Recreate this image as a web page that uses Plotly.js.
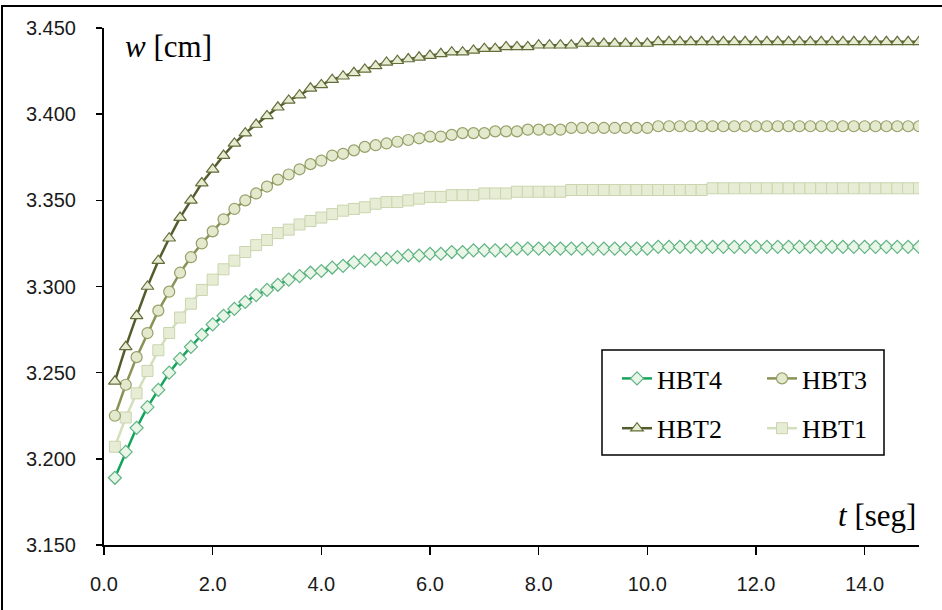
<!DOCTYPE html>
<html>
<head>
<meta charset="utf-8">
<script src="https://cdn.plot.ly/plotly-3.0.1.min.js"></script>
<style>
  html, body { margin: 0; padding: 0; background: #fff; }
  #wrap { position: relative; width: 942px; height: 610px; }
  #chart { width: 942px; height: 610px; }
  #frame { position: absolute; left: 1px; top: 5px; width: 941px; height: 605px;
           border-top: 2px solid #000; border-left: 2px solid #000; box-sizing: border-box; pointer-events: none; }
</style>
</head>
<body>
<div id="wrap">
  <div id="chart"></div>
  <div id="frame"></div>
</div>
<script>
// time [s]
const t = [0.2,0.4,0.6,0.8,1.0,1.2,1.4,1.6,1.8,2.0,2.2,2.4,2.6,2.8,3.0,3.2,3.4,3.6,3.8,4.0,
  4.2,4.4,4.6,4.8,5.0,5.2,5.4,5.6,5.8,6.0,6.2,6.4,6.6,6.8,7.0,7.2,7.4,7.6,7.8,8.0,
  8.2,8.4,8.6,8.8,9.0,9.2,9.4,9.6,9.8,10.0,10.2,10.4,10.6,10.8,11.0,11.2,11.4,11.6,11.8,12.0,
  12.2,12.4,12.6,12.8,13.0,13.2,13.4,13.6,13.8,14.0,14.2,14.4,14.6,14.8,15.0];

const hbt2 = [3.245,3.265,3.283,3.300,3.315,3.328,3.340,3.350,3.360,3.368,3.376,3.383,3.389,3.394,3.399,3.404,3.408,3.411,3.415,3.417,
  3.420,3.422,3.424,3.426,3.428,3.430,3.431,3.432,3.433,3.434,3.435,3.436,3.436,3.437,3.438,3.438,3.439,3.439,3.439,3.440,
  3.440,3.440,3.440,3.441,3.441,3.441,3.441,3.441,3.441,3.441,3.442,3.442,3.442,3.442,3.442,3.442,3.442,3.442,3.442,3.442,
  3.442,3.442,3.442,3.442,3.442,3.442,3.442,3.442,3.442,3.442,3.442,3.442,3.442,3.442,3.442];

const hbt3 = [3.225,3.243,3.259,3.273,3.286,3.297,3.308,3.317,3.325,3.332,3.339,3.345,3.350,3.354,3.358,3.362,3.365,3.368,3.371,3.373,
  3.376,3.377,3.379,3.381,3.382,3.383,3.384,3.385,3.386,3.387,3.387,3.388,3.389,3.389,3.389,3.390,3.390,3.390,3.391,3.391,
  3.391,3.391,3.392,3.392,3.392,3.392,3.392,3.392,3.392,3.392,3.393,3.393,3.393,3.393,3.393,3.393,3.393,3.393,3.393,3.393,
  3.393,3.393,3.393,3.393,3.393,3.393,3.393,3.393,3.393,3.393,3.393,3.393,3.393,3.393,3.393];

const hbt1 = [3.207,3.224,3.238,3.251,3.263,3.273,3.282,3.290,3.298,3.304,3.310,3.315,3.320,3.324,3.327,3.331,3.333,3.336,3.338,3.340,
  3.342,3.344,3.345,3.346,3.348,3.349,3.349,3.350,3.351,3.352,3.352,3.353,3.353,3.353,3.354,3.354,3.354,3.355,3.355,3.355,
  3.355,3.355,3.356,3.356,3.356,3.356,3.356,3.356,3.356,3.356,3.356,3.356,3.356,3.356,3.356,3.357,3.357,3.357,3.357,3.357,
  3.357,3.357,3.357,3.357,3.357,3.357,3.357,3.357,3.357,3.357,3.357,3.357,3.357,3.357,3.357];

const hbt4 = [3.189,3.204,3.218,3.230,3.240,3.250,3.258,3.265,3.272,3.278,3.283,3.287,3.291,3.295,3.298,3.301,3.304,3.306,3.308,3.309,
  3.311,3.312,3.314,3.315,3.316,3.316,3.317,3.318,3.318,3.319,3.319,3.320,3.320,3.321,3.321,3.321,3.321,3.322,3.322,3.322,
  3.322,3.322,3.322,3.322,3.322,3.322,3.322,3.322,3.322,3.322,3.323,3.323,3.323,3.323,3.323,3.323,3.323,3.323,3.323,3.323,
  3.323,3.323,3.323,3.323,3.323,3.323,3.323,3.323,3.323,3.323,3.323,3.323,3.323,3.323,3.323];

const xTicks = [0, 2, 4, 6, 8, 10, 12, 14];
const yTicks = [3.15, 3.20, 3.25, 3.30, 3.35, 3.40, 3.45];

const traces = [
  { x: t, y: hbt1, name: 'HBT1', mode: 'lines+markers', legend: 'legend2', legendrank: 2, legendgroup: 'g1',
    line: { color: '#d3dfbb', width: 2.5 },
    marker: { symbol: 'square', size: 11, color: '#e7edd5', line: { color: '#c9d5ae', width: 1 } } },
  { x: t, y: hbt3, name: 'HBT3', mode: 'lines+markers', legend: 'legend2', legendrank: 1, legendgroup: 'g3',
    line: { color: '#8a9255', width: 2.5 },
    marker: { symbol: 'circle', size: 11, color: '#e3e9cc', line: { color: '#979e68', width: 1.2 } } },
  { x: t, y: hbt2, name: 'HBT2', mode: 'lines+markers', legend: 'legend', legendrank: 2, legendgroup: 'g2',
    line: { color: '#525c2c', width: 2.5 },
    marker: { symbol: 'triangle-up', size: 11, color: '#e6ecd2', line: { color: '#646d3a', width: 1.2 } } },
  { x: t, y: hbt4, name: 'HBT4', mode: 'lines+markers', legend: 'legend', legendrank: 1, legendgroup: 'g4',
    line: { color: '#14a35b', width: 2.5 },
    marker: { symbol: 'diamond', size: 10, color: '#e9f5e6', line: { color: '#5fb383', width: 1.2 } } }
];

const PL = 104, PR = 919, PT = 28, PB = 545;
const px = v => (v - PL) / (PR - PL);
const py = v => (PB - v) / (PB - PT);

const tickFont = { family: 'Liberation Sans Narrow, Arial Narrow, sans-serif', size: 20, color: '#1a1a1a' };
const legFont = { family: 'Liberation Serif, Times New Roman, serif', size: 26, color: '#000' };

const layout = {
  width: 942, height: 610,
  margin: { l: PL, r: 942 - PR, t: PT, b: 610 - PB },
  paper_bgcolor: '#fff', plot_bgcolor: '#fff',
  showlegend: true,
  xaxis: {
    range: [0, 15], tickvals: xTicks, tickformat: '.1f',
    showgrid: false, zeroline: false, showline: true, linecolor: '#000', linewidth: 2,
    ticks: 'outside', ticklen: 8, tickwidth: 1.5, tickcolor: '#000',
    ticklabelstandoff: 12, tickfont: tickFont
  },
  yaxis: {
    range: [3.15, 3.45], tickvals: yTicks, tickformat: '.3f',
    showgrid: false, zeroline: false, showline: true, linecolor: '#000', linewidth: 2,
    ticks: 'outside', ticklen: 6, tickwidth: 1.5, tickcolor: '#000',
    ticklabelstandoff: 16, tickfont: tickFont
  },
  legend: {
    x: px(617), y: py(355), xanchor: 'left', yanchor: 'top',
    bgcolor: 'rgba(0,0,0,0)', borderwidth: 0, font: legFont,
    traceorder: 'grouped', tracegroupgap: 13
  },
  legend2: {
    x: px(762), y: py(355), xanchor: 'left', yanchor: 'top',
    bgcolor: 'rgba(0,0,0,0)', borderwidth: 0, font: legFont,
    traceorder: 'grouped', tracegroupgap: 13
  },
  shapes: [
    { type: 'rect', xref: 'paper', yref: 'paper',
      x0: px(602), x1: px(884), y0: py(455), y1: py(350),
      line: { color: '#000', width: 1.5 }, fillcolor: 'rgba(0,0,0,0)', layer: 'above' }
  ],
  annotations: [
    { text: '<i>w</i> [cm]', xref: 'paper', yref: 'paper', x: px(123), y: py(27),
      xanchor: 'left', yanchor: 'top', showarrow: false,
      font: { family: 'Liberation Serif, Times New Roman, serif', size: 31, color: '#000' } },
    { text: '<i>t</i> [seg]', xref: 'paper', yref: 'paper', x: px(918), y: py(535),
      xanchor: 'right', yanchor: 'bottom', showarrow: false,
      font: { family: 'Liberation Serif, Times New Roman, serif', size: 31, color: '#000' } }
  ]
};

Plotly.newPlot('chart', traces, layout, { displayModeBar: false, staticPlot: true });
</script>
</body>
</html>
